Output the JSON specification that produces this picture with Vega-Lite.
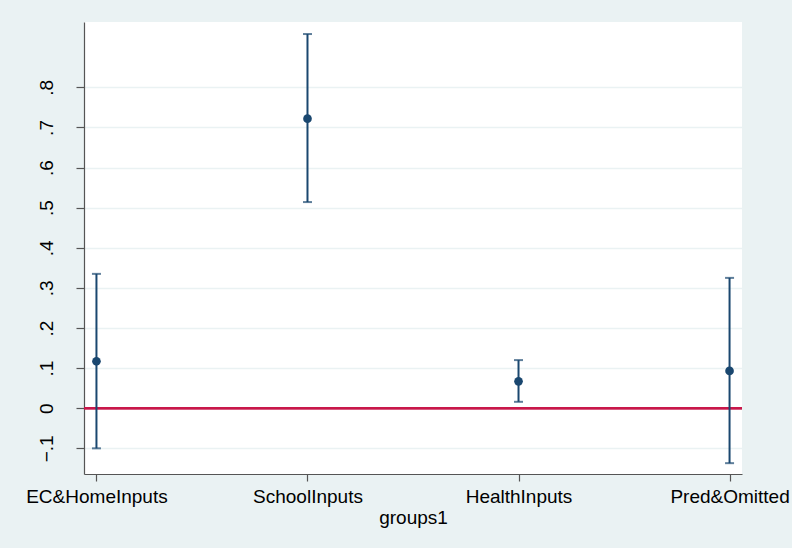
{
  "$schema": "https://vega.github.io/schema/vega-lite/v6.json",
  "autosize": "none",
  "width": 658,
  "height": 452,
  "padding": {"left": 84, "top": 22, "right": 50, "bottom": 74},
  "background": "#eaf2f3",
  "config": {
    "font": "Liberation Sans",
    "view": {"stroke": null, "fill": "white"},
    "axis": {"domainColor": "#555555", "tickColor": "#555555", "labelColor": "#000000", "titleColor": "#000000", "labelFont": "Liberation Sans", "titleFont": "Liberation Sans", "labelFontSize": 19, "titleFontSize": 19, "titleFontWeight": "normal", "domainWidth": 1.2, "tickWidth": 1.2}
  },
  "data": {
    "values": [
      {"group": "EC&HomeInputs", "est": 0.117, "lo": -0.100, "hi": 0.335},
      {"group": "SchoolInputs", "est": 0.722, "lo": 0.514, "hi": 0.933},
      {"group": "HealthInputs", "est": 0.067, "lo": 0.016, "hi": 0.120},
      {"group": "Pred&Omitted", "est": 0.093, "lo": -0.137, "hi": 0.325}
    ]
  },
  "encoding": {
    "x": {
      "field": "group",
      "type": "ordinal",
      "sort": null,
      "scale": {"type": "point", "padding": 0.059},
      "axis": {"title": "groups1", "labelAngle": 0, "tickSize": 7, "labelPadding": 6, "titlePadding": 2, "grid": false}
    }
  },
  "layer": [
    {
      "mark": {"type": "rule", "color": "#c8174a", "strokeWidth": 2},
      "encoding": {"x": null, "y": {"datum": 0, "type": "quantitative"}}
    },
    {
      "mark": {"type": "rule", "color": "#1a476f", "strokeWidth": 2},
      "encoding": {
        "y": {
          "field": "lo",
          "type": "quantitative",
          "scale": {"domain": [-0.164, 0.963], "nice": false, "zero": false},
          "axis": {
            "title": null,
            "values": [-0.1, 0, 0.1, 0.2, 0.3, 0.4, 0.5, 0.6, 0.7, 0.8],
            "labelExpr": "datum.value == 0 ? '0' : replace(format(datum.value, '.1f'), '0.', '.')",
            "labelAngle": -90,
            "labelAlign": "center",
            "labelBaseline": "bottom",
            "tickSize": 8,
            "labelPadding": 20,
            "grid": true,
            "gridColor": "#eaf2f3",
            "gridWidth": 1.5
          }
        },
        "y2": {"field": "hi"}
      }
    },
    {
      "mark": {"type": "tick", "color": "#1a476f", "size": 9, "thickness": 2},
      "encoding": {"y": {"field": "lo", "type": "quantitative"}}
    },
    {
      "mark": {"type": "tick", "color": "#1a476f", "size": 9, "thickness": 2},
      "encoding": {"y": {"field": "hi", "type": "quantitative"}}
    },
    {
      "mark": {"type": "point", "filled": true, "color": "#1a476f", "size": 75, "opacity": 1},
      "encoding": {"y": {"field": "est", "type": "quantitative"}}
    }
  ]
}
